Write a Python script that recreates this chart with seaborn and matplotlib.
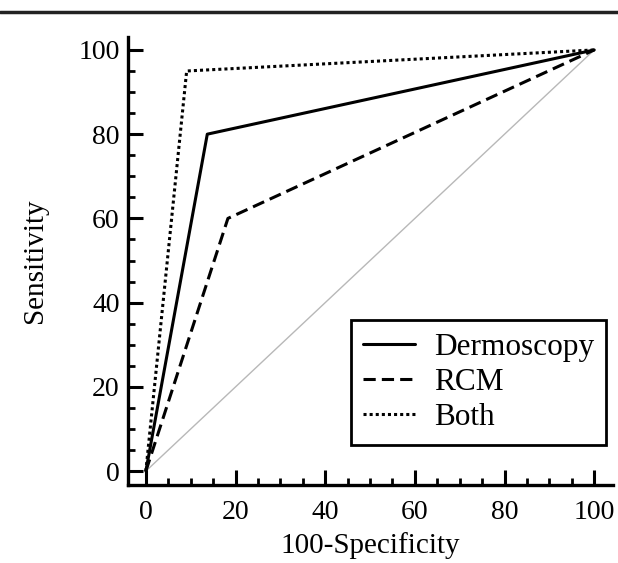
import numpy as np
import pandas as pd
import matplotlib
matplotlib.use("Agg")
import matplotlib.pyplot as plt
import seaborn as sns
from matplotlib.lines import Line2D
from matplotlib.ticker import MultipleLocator

# ROC points (100-specificity, sensitivity)
methods = ["Dermoscopy", "RCM", "Both"]
fpr_derm = [0, 13.7, 100]
sens_derm = [0, 80, 100]
fpr_rcm = [0, 18.3, 100]
sens_rcm = [0, 60, 100]
fpr_both = [0, 9.1, 100]
sens_both = [0, 95, 100]

df = pd.DataFrame({
    "fpr": fpr_derm + fpr_rcm + fpr_both,
    "sens": sens_derm + sens_rcm + sens_both,
    "method": ["Dermoscopy"] * 3 + ["RCM"] * 3 + ["Both"] * 3,
})

sns.set_style("white")
plt.rcParams["font.family"] = ["Liberation Serif", "DejaVu Serif"]
plt.rcParams.update({
    "text.color": "black",
    "axes.labelcolor": "black",
    "xtick.color": "black",
    "ytick.color": "black",
})

fig = plt.figure(figsize=(6.18, 5.63), dpi=100)
ax = fig.add_axes([0.207, 0.1385, 0.785, 0.796])

# reference diagonal
ax.plot([0, 100], [0, 100], color="#b8b8b8", linewidth=1.0, zorder=1)

styles = {"Dermoscopy": "-", "RCM": (0, (4, 2)), "Both": (0, (1, 1))}
for m in methods:
    sub = df[df["method"] == m]
    sns.lineplot(data=sub, x="fpr", y="sens", sort=False, color="black",
                 linewidth=2.2, linestyle=styles[m], label=m, ax=ax, zorder=3)

ax.set_xlim(-4, 104.2)
ax.set_ylim(-3.3, 103.1)
ax.xaxis.set_major_locator(MultipleLocator(20))
ax.xaxis.set_minor_locator(MultipleLocator(5))
ax.yaxis.set_major_locator(MultipleLocator(20))
ax.yaxis.set_minor_locator(MultipleLocator(5))
ax.set_xticks(np.arange(0, 101, 20))
ax.set_yticks(np.arange(0, 101, 20))

ax.tick_params(which="major", direction="in", length=10.5, width=2.2,
               labelsize=20, bottom=True, left=True)
ax.tick_params(axis="y", which="major", pad=6)
ax.tick_params(axis="x", which="major", pad=11)
ax.tick_params(which="minor", direction="in", length=5, width=2.0,
               bottom=True, left=True)

for s in ["top", "right"]:
    ax.spines[s].set_visible(False)
for s in ["left", "bottom"]:
    ax.spines[s].set_linewidth(2.4)
    ax.spines[s].set_color("black")

ax.set_xlabel("100-Specificity", fontsize=21, labelpad=5)
ax.set_ylabel("Sensitivity", fontsize=21, labelpad=22)

leg = ax.legend(loc="lower right", bbox_to_anchor=(0.986, 0.09), fontsize=22.5,
                frameon=True, fancybox=False, handlelength=1.65,
                borderpad=0.4, labelspacing=0.2, handletextpad=0.6,
                borderaxespad=0)
leg.get_frame().set_edgecolor("black")
leg.get_frame().set_linewidth(2.0)
leg.get_frame().set_alpha(1)

# rule across the top of the figure
fig.add_artist(Line2D([0, 1], [0.979, 0.979], transform=fig.transFigure,
                      color="#222222", linewidth=2.5))

fig.savefig("out.png", dpi=100, facecolor="white")
